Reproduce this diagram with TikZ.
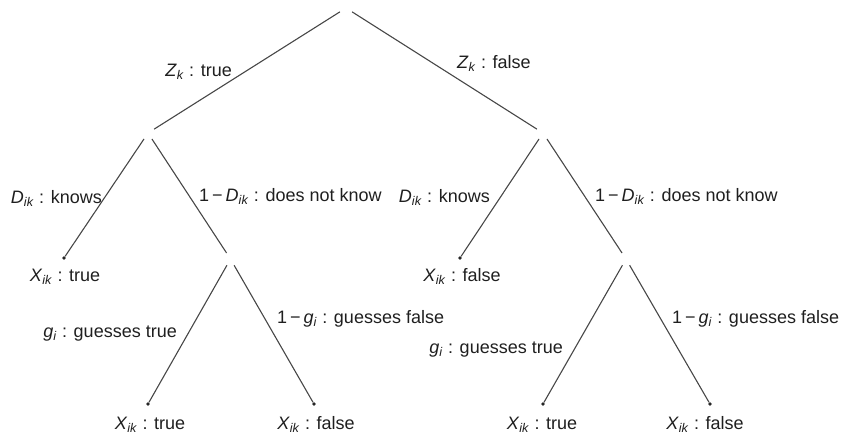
\documentclass[tikz,border=0pt]{standalone}
\usepackage{fontspec}
\setmainfont{Liberation Sans}
\newcommand{\Zk}{\textit{Z}\textsubscript{\textit{k}}}
\newcommand{\Dik}{\textit{D}\textsubscript{\textit{ik}}}
\newcommand{\Xik}{\textit{X}\textsubscript{\textit{ik}}}
\newcommand{\gsub}{\textit{g}\textsubscript{\textit{i}}}
\newcommand{\oneminus}{1\,−\,}
\begin{document}
\begin{tikzpicture}[x=1pt,y=-1pt,
  branch/.style={draw=black!72, line width=1.1pt},
  fork/.style={circle, inner sep=0pt, minimum size=14pt},
  leaf/.style={circle, fill=black!85, inner sep=0pt, minimum size=3.6pt},
  lab/.style={font=\fontsize{18}{22}\selectfont, text=black!88, inner sep=0pt}]
\useasboundingbox (0,0) rectangle (842,434);
% forks
\node[fork] (r)  at (346,8) {};
\node[fork] (a)  at (148,133) {};
\node[fork] (b)  at (543,133) {};
\node[fork] (a2) at (230.5,259) {};
\node[fork] (b2) at (626,259) {};
% leaves
\node[leaf] (a1)  at (64,258) {};
\node[leaf] (b1)  at (460,258) {};
\node[leaf] (a21) at (148,404) {};
\node[leaf] (a22) at (314,404) {};
\node[leaf] (b21) at (543,404) {};
\node[leaf] (b22) at (710,404) {};
% branches
\draw[branch] (r) -- (a);
\draw[branch] (r) -- (b);
\draw[branch] (a) -- (a1);
\draw[branch] (a) -- (a2);
\draw[branch] (b) -- (b1);
\draw[branch] (b) -- (b2);
\draw[branch] (a2) -- (a21);
\draw[branch] (a2) -- (a22);
\draw[branch] (b2) -- (b21);
\draw[branch] (b2) -- (b22);
% labels
\node[lab, anchor=base east] (lzt) at (232,76) {\Zk{} : true};
\node[lab, anchor=base west] (lzf) at (457,68) {\Zk{} : false};
\node[lab, anchor=base east] (lak) at (102,203) {\Dik{} : knows};
\node[lab, anchor=base west] (lan) at (199,201) {\oneminus\Dik{} : does not know};
\node[lab, anchor=base east] (lbk) at (490,202) {\Dik{} : knows};
\node[lab, anchor=base west] (lbn) at (595,201) {\oneminus\Dik{} : does not know};
\node[lab, anchor=base] (la1) at (65,281) {\Xik{} : true};
\node[lab, anchor=base] (lb1) at (462,281) {\Xik{} : false};
\node[lab, anchor=base east] (lagt) at (177,337) {\gsub{} : guesses true};
\node[lab, anchor=base west] (lagf) at (277,323) {\oneminus\gsub{} : guesses false};
\node[lab, anchor=base east] (lbgt) at (563,353) {\gsub{} : guesses true};
\node[lab, anchor=base west] (lbgf) at (672,323) {\oneminus\gsub{} : guesses false};
\node[lab, anchor=base] (la21) at (150,429) {\Xik{} : true};
\node[lab, anchor=base] (la22) at (316,429) {\Xik{} : false};
\node[lab, anchor=base] (lb21) at (542,429) {\Xik{} : true};
\node[lab, anchor=base] (lb22) at (705,429) {\Xik{} : false};
\end{tikzpicture}
\end{document}
